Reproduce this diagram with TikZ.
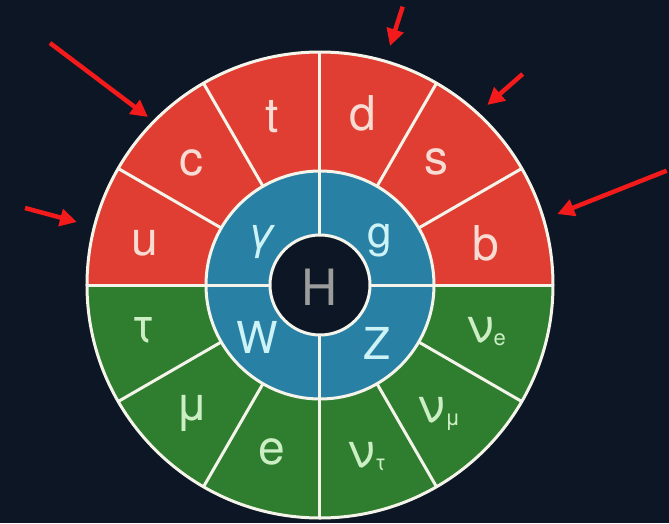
\documentclass[tikz,border=0pt]{standalone}
\usepackage{fontspec}
\setmainfont{TeX Gyre Heros}
\usetikzlibrary{arrows.meta}

\definecolor{bgnavy}{HTML}{0C1624}
\definecolor{quarkred}{HTML}{E03E32}
\definecolor{leptongreen}{HTML}{2F7D2E}
\definecolor{bosonblue}{HTML}{2880A5}
\definecolor{rim}{HTML}{F4F4EA}
\definecolor{qtext}{HTML}{F8DCD4}
\definecolor{ltext}{HTML}{CBEEC4}
\definecolor{btext}{HTML}{CDF3F7}
\definecolor{htext}{HTML}{9C9C9C}
\definecolor{ptred}{HTML}{F21A1A}

\newcommand{\nusub}[1]{ν\raisebox{-3pt}{\fontsize{22}{22}\selectfont #1}}

\begin{document}
\begin{tikzpicture}[x=1pt, y=1pt,
    quark/.style={inner sep=0pt, text=qtext, font=\fontsize{48}{48}\selectfont},
    lepton/.style={inner sep=0pt, text=ltext, font=\fontsize{48}{48}\selectfont},
    boson/.style={inner sep=0pt, text=btext, font=\fontsize{44}{44}\selectfont},
    spoke/.style={draw=rim, line width=3pt},
    pointer/.style={draw=ptred, line width=4.5pt, -{Triangle[length=17pt,width=17pt]}}]

    \useasboundingbox (-320,-238) rectangle (349,285);
    \fill[bgnavy] (-320,-238) rectangle (349,285);

    % rings
    \fill[quarkred] (233pt,0) arc[start angle=0, end angle=180, radius=233pt] -- cycle;
    \fill[leptongreen] (-233pt,0) arc[start angle=180, end angle=360, radius=233pt] -- cycle;
    \fill[bosonblue] (0,0) circle[radius=114pt];
    \fill[bgnavy] (0,0) circle[radius=50pt];

    \path[spoke] (30:114) -- (30:233);
    \path[spoke] (60:114) -- (60:233);
    \path[spoke] (120:114) -- (120:233);
    \path[spoke] (150:114) -- (150:233);
    \path[spoke] (210:114) -- (210:233);
    \path[spoke] (240:114) -- (240:233);
    \path[spoke] (300:114) -- (300:233);
    \path[spoke] (330:114) -- (330:233);
    \path[spoke] (90:50) -- (90:233);
    \path[spoke] (270:50) -- (270:233);
    \path[spoke] (0:50) -- (0:233);
    \path[spoke] (180:50) -- (180:233);
    \path[spoke] (0,0) circle[radius=233pt];
    \path[spoke] (0,0) circle[radius=114pt];
    \path[spoke] (0,0) circle[radius=50pt];

    % quarks
    \node at (-175, 41.5) (u) [quark] {u};
    \node at (-128, 121.6) (c) [quark] {c};
    \node at (-48, 168.3) (t) [quark] {t};
    \node at (42.6, 171.6) (d) [quark] {d};
    \node at (116, 123) (s) [quark] {s};
    \node at (166, 41.5) (b) [quark] {b};

    % leptons
    \node at (-177, -45) (tau) [lepton] {τ};
    \node at (-128, -128.6) (mu) [lepton] {μ};
    \node at (-48, -167) (e) [lepton] {e};
    \node at (47, -171.5) (nutau) [lepton] {\nusub{τ}};
    \node at (119, -128.6) (numu) [lepton] {\nusub{μ}};
    \node at (166, -47) (nue) [lepton] {\nusub{e}};

    % bosons
    \node at (-58, 43) (gamma) [boson] {\textit{γ}};
    \node at (60, 45) (g) [boson] {g};
    \node at (-63, -52) (W) [boson] {W};
    \node at (57, -58) (Z) [boson] {Z};
    \node at (0, -2) (H) [inner sep=0pt, text=htext, font=\fontsize{50}{50}\selectfont] {H};

    % arrows
    \coordinate (P1) at (-270, 242);
    \coordinate (Q1) at (-172, 168);
    \coordinate (P2) at (-295, 77);
    \coordinate (Q2) at (-243, 63);
    \coordinate (P3) at (82.7, 278.3);
    \coordinate (Q3) at (70, 239);
    \coordinate (P4) at (202.7, 211);
    \coordinate (Q4) at (167.3, 180);
    \coordinate (P5) at (346.7, 114.3);
    \coordinate (Q5) at (237.3, 71);

    \path[pointer] (P1) -- (Q1);
    \path[pointer] (P2) -- (Q2);
    \path[pointer] (P3) -- (Q3);
    \path[pointer] (P4) -- (Q4);
    \path[pointer] (P5) -- (Q5);

\end{tikzpicture}
\end{document}
